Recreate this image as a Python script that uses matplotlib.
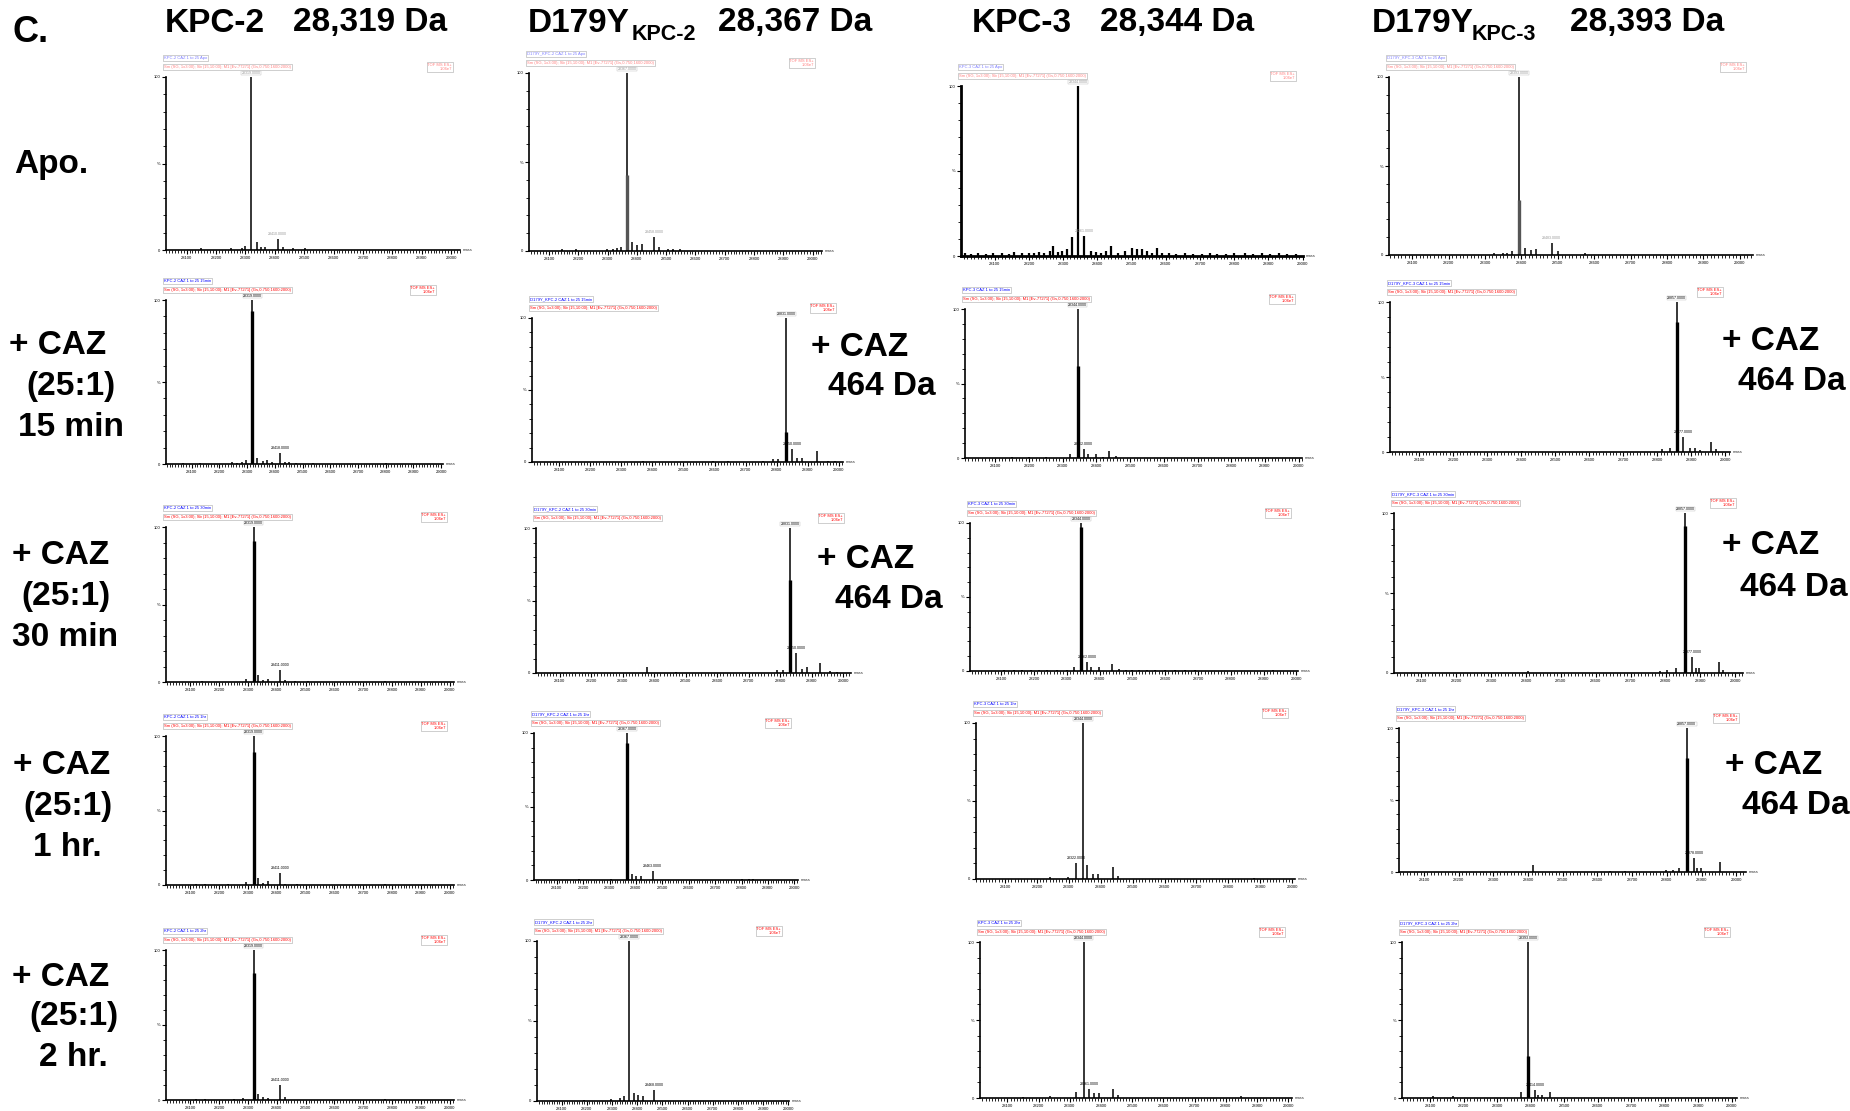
import numpy as np
import matplotlib
matplotlib.use("Agg")
import matplotlib.pyplot as plt
from matplotlib.ticker import MultipleLocator, FixedLocator

plt.rcParams['font.family'] = ['Liberation Sans', 'DejaVu Sans']

W, H = 1850, 1111

# ---- data: deconvoluted ESI-MS spectra (mass in Da, relative intensity %) ----
columns = ["KPC-2", "D179Y KPC-2", "KPC-3", "D179Y KPC-3"]
apo_masses = ["28,319 Da", "28,367 Da", "28,344 Da", "28,393 Da"]
times = ["Apo", "15min", "30min", "1hr", "2hr"]

# KPC-2
kpc2_apo_mz = [28149, 28250, 28287, 28299, 28319, 28338, 28352, 28367, 28410, 28427, 28461, 28503]
kpc2_apo_int = [1.0, 1.0, 1.2, 2.5, 100, 4.8, 2.0, 2.0, 6.2, 2.0, 1.0, 1.0]
kpc2_15_mz = [28070, 28131, 28245, 28263, 28281, 28296, 28319, 28337, 28356, 28371, 28388, 28418, 28437, 28452, 28478, 28538, 28803]
kpc2_15_int = [0.5, 0.7, 1.0, 0.8, 1.0, 2.5, 100, 3.5, 2.0, 2.5, 1.0, 6.5, 1.5, 1.0, 0.8, 0.6, 0.6]
kpc2_30_mz = [28140, 28293, 28319, 28334, 28352, 28369, 28411, 28428, 28463, 28508, 28777]
kpc2_30_int = [0.5, 2.0, 100, 4.7, 1.5, 2.0, 7.5, 1.0, 0.8, 0.8, 0.6]
kpc2_1h_mz = [28120, 28150, 28230, 28293, 28319, 28334, 28352, 28369, 28411, 28428, 28470, 28777]
kpc2_1h_int = [0.8, 1.0, 1.0, 2.0, 100, 5.0, 1.5, 2.5, 8.3, 1.0, 0.8, 1.0]
kpc2_2h_mz = [28120, 28150, 28250, 28283, 28319, 28334, 28352, 28369, 28411, 28428, 28777]
kpc2_2h_int = [0.8, 1.0, 1.0, 1.5, 100, 4.0, 2.0, 1.5, 10.0, 2.0, 1.0]

# D179Y KPC-2
d2_apo_mz = [28146, 28194, 28299, 28317, 28333, 28346, 28367, 28384, 28399, 28416, 28458, 28476, 28507, 28525, 28547]
d2_apo_int = [1.0, 1.0, 1.0, 1.2, 1.5, 2.5, 100, 5.0, 3.5, 4.0, 8.0, 2.5, 1.0, 1.0, 1.0]
d2_15_mz = [28370, 28595, 28643, 28755, 28788, 28803, 28831, 28850, 28864, 28882, 28929, 28965, 28986]
d2_15_int = [1.0, 0.8, 0.8, 1.0, 2.0, 2.0, 100, 9.0, 3.0, 3.0, 7.4, 1.0, 1.0]
d2_30_mz = [28376, 28470, 28790, 28809, 28831, 28850, 28870, 28884, 28927, 28959, 28982]
d2_30_int = [4.0, 1.0, 2.0, 2.0, 100, 13.7, 3.0, 4.0, 7.0, 1.5, 1.0]
d2_1h_mz = [28183, 28306, 28367, 28385, 28401, 28418, 28463, 28801, 28827, 28844]
d2_1h_int = [1.0, 1.0, 100, 4.0, 3.0, 3.0, 6.3, 1.0, 1.0, 1.0]
d2_2h_mz = [28190, 28296, 28331, 28348, 28367, 28386, 28402, 28421, 28468]
d2_2h_int = [0.8, 1.5, 2.0, 3.0, 100, 5.0, 4.0, 3.0, 6.9]

# KPC-3
kpc3_apo_mz = [28012, 28030, 28050, 28075, 28095, 28120, 28140, 28156, 28180, 28200, 28215, 28230,
               28245, 28260, 28271, 28285, 28296, 28310, 28327, 28344, 28361, 28380, 28395, 28410,
               28425, 28440, 28460, 28480, 28500, 28515, 28529, 28545, 28560, 28573, 28590, 28610,
               28630, 28655, 28680, 28705, 28730, 28750, 28775, 28800, 28830, 28855, 28880, 28905,
               28930, 28955, 28980]
kpc3_apo_int = [1.5, 1.0, 1.5, 1.0, 2.0, 1.5, 1.0, 2.5, 1.5, 2.0, 1.5, 2.5,
                2.0, 3.0, 6.0, 2.5, 3.0, 4.0, 11.0, 100, 12.0, 3.0, 2.5, 2.0,
                3.0, 6.0, 2.0, 3.0, 5.0, 4.0, 4.0, 3.0, 2.0, 5.0, 2.0, 1.5,
                1.0, 1.5, 1.0, 1.0, 1.5, 1.0, 1.0, 1.5, 1.5, 1.0, 1.5, 1.0,
                1.5, 1.0, 1.0]
kpc3_15_mz = [28150, 28200, 28250, 28322, 28344, 28362, 28375, 28398, 28420, 28438, 28458]
kpc3_15_int = [0.8, 1.0, 1.0, 3.0, 100, 6.0, 3.0, 3.0, 1.0, 5.0, 1.5]
kpc3_30_mz = [28110, 28140, 28165, 28190, 28215, 28240, 28270, 28300, 28322, 28344, 28362, 28375,
              28398, 28438, 28458, 28480, 28500, 28520, 28545, 28570, 28600, 28630, 28660, 28690, 28930]
kpc3_30_int = [0.7, 0.7, 0.7, 0.7, 0.7, 0.7, 0.7, 0.7, 3.0, 100, 6.0, 3.0,
               3.0, 5.0, 1.5, 0.7, 0.7, 0.7, 0.7, 0.7, 0.7, 0.7, 0.7, 0.7, 1.0]
kpc3_1h_mz = [28240, 28298, 28322, 28344, 28357, 28375, 28390, 28437, 28455, 28880]
kpc3_1h_int = [1.5, 1.5, 10.0, 100, 9.0, 3.0, 3.0, 8.0, 2.0, 0.8]
kpc3_2h_mz = [28150, 28237, 28320, 28344, 28361, 28377, 28393, 28439, 28455, 28850]
kpc3_2h_int = [0.5, 1.0, 4.0, 100, 6.0, 3.0, 3.5, 6.0, 2.0, 1.0]

# D179Y KPC-3
d3_apo_mz = [28324, 28348, 28359, 28373, 28393, 28409, 28425, 28440, 28483, 28501, 28575]
d3_apo_int = [1.0, 1.0, 1.0, 2.5, 100, 4.0, 3.0, 3.5, 7.0, 2.0, 1.0]
d3_15_mz = [28401, 28815, 28838, 28857, 28877, 28895, 28911, 28926, 28957, 28974]
d3_15_int = [1.0, 2.0, 2.5, 100, 10.0, 3.0, 3.0, 1.5, 7.0, 2.0]
d3_30_mz = [28405, 28783, 28805, 28831, 28857, 28877, 28887, 28897, 28954, 28964]
d3_30_int = [1.5, 1.0, 2.0, 3.0, 100, 10.0, 3.0, 3.0, 7.0, 2.0]
d3_1h_mz = [28413, 28635, 28678, 28797, 28818, 28835, 28857, 28878, 28888, 28898, 28954]
d3_1h_int = [5.0, 1.0, 1.0, 1.5, 1.5, 3.0, 100, 10.0, 3.0, 2.5, 7.0]
d3_2h_mz = [28108, 28168, 28370, 28393, 28414, 28422, 28434, 28457]
d3_2h_int = [1.0, 1.0, 4.0, 100, 5.0, 2.0, 2.0, 4.0]

spectra = [
    [(kpc2_apo_mz, kpc2_apo_int), (d2_apo_mz, d2_apo_int), (kpc3_apo_mz, kpc3_apo_int), (d3_apo_mz, d3_apo_int)],
    [(kpc2_15_mz, kpc2_15_int), (d2_15_mz, d2_15_int), (kpc3_15_mz, kpc3_15_int), (d3_15_mz, d3_15_int)],
    [(kpc2_30_mz, kpc2_30_int), (d2_30_mz, d2_30_int), (kpc3_30_mz, kpc3_30_int), (d3_30_mz, d3_30_int)],
    [(kpc2_1h_mz, kpc2_1h_int), (d2_1h_mz, d2_1h_int), (kpc3_1h_mz, kpc3_1h_int), (d3_1h_mz, d3_1h_int)],
    [(kpc2_2h_mz, kpc2_2h_int), (d2_2h_mz, d2_2h_int), (kpc3_2h_mz, kpc3_2h_int), (d3_2h_mz, d3_2h_int)],
]
# lower edge of the mass window of each panel (window is 1000 Da wide)
x_start = [
    [28030, 28032, 28001, 28036],
    [28007, 28013, 28010, 28014],
    [28015, 28025, 28005, 28022],
    [28015, 28014, 28009, 28028],
    [28015, 28002, 28012, 28016],
]
# height of the centroid bar drawn under the apex line
core_height = [
    [0, 42.5, 0, 31],
    [93, 21, 62, 87],
    [91, 64, 97, 92],
    [89, 93, 0, 79],
    [85, 0, 0, 27],
]

# panel boxes in pixels: left, top, right, bottom
boxes = [
    [(166, 77, 460, 250), (529, 73, 822, 251), (961, 86, 1303, 256), (1389, 77, 1753, 255)],
    [(166, 300, 443, 464), (532, 318, 843, 462), (965, 309, 1302, 458), (1390, 302, 1730, 452)],
    [(166, 527, 454, 682), (536, 528, 851, 673), (970, 523, 1298, 671), (1394, 513, 1743, 673)],
    [(166, 736, 454, 885), (534, 733, 798, 880), (976, 723, 1295, 879), (1399, 728, 1746, 872)],
    [(166, 950, 454, 1100), (537, 941, 789, 1101), (980, 942, 1292, 1098), (1402, 942, 1737, 1098)],
]

fig = plt.figure(figsize=(W / 100, H / 100), dpi=100)


def px(x, y):
    return x / W, 1 - y / H


for r in range(5):
    for c in range(4):
        mz, inten = spectra[r][c]
        l, t, rt, b = boxes[r][c]
        ax = fig.add_axes([l / W, 1 - b / H, (rt - l) / W, (b - t) / H])
        x0 = x_start[r][c]
        faint = (r == 0)
        lwp = 1.6 if (r == 0 and c == 2) else 1.1
        ax.vlines(mz, 0, inten, color='black', lw=lwp, clip_on=False)
        imax = int(np.argmax(inten))
        if core_height[r][c] > 0:
            ax.vlines([mz[imax]], 0, [core_height[r][c]], color='black' if not faint else '#555555', lw=2.4)
        ax.set_xlim(x0, x0 + 1000)
        ax.set_ylim(0, 100)
        for s in ['top', 'right']:
            ax.spines[s].set_visible(False)
        bw = 2.0 if (r == 0 and c == 2) else 1.2
        ax.spines['left'].set_linewidth(bw)
        ax.spines['bottom'].set_linewidth(bw)
        ax.xaxis.set_major_locator(MultipleLocator(100))
        ax.xaxis.set_minor_locator(MultipleLocator(10))
        ax.yaxis.set_major_locator(FixedLocator([0, 50, 100]))
        ax.yaxis.set_minor_locator(MultipleLocator(10))
        ax.set_yticklabels(['0', '%', '100'])
        ax.tick_params(which='major', direction='out', length=3, width=0.8, labelsize=3, pad=1)
        ax.tick_params(which='minor', direction='out', length=2, width=0.6)
        ax.patch.set_alpha(0)

        # peak labels
        tcol = '#999999' if faint else 'black'
        ax.annotate(f"{mz[imax]:.4f}", xy=(mz[imax], 100), xytext=(0, 2), textcoords='offset pixels',
                    ha='center', va='bottom', fontsize=2.6, color=tcol,
                    bbox=dict(boxstyle='square,pad=0.1', fc='white', ec='#bbbbbb', lw=0.3))
        rest = [i for i in range(len(inten)) if i != imax]
        j = max(rest, key=lambda i: inten[i])
        ax.annotate(f"{mz[j]:.4f}", xy=(mz[j], inten[j]), xytext=(0, 3), textcoords='offset pixels',
                    ha='center', va='bottom', fontsize=2.6, color=tcol)

        # instrument header boxes
        name = columns[c].replace(' ', '_')
        bcol = '#8080ff' if faint else 'blue'
        rcol = '#ff8080' if faint else 'red'
        ax.annotate(f"{name} CAZ 1 to 25 {times[r]}", xy=(0, 1), xycoords='axes fraction',
                    xytext=(-2, 17), textcoords='offset pixels', fontsize=3, color=bcol, va='bottom',
                    bbox=dict(boxstyle='square,pad=0.15', fc='white', ec='#aaaaaa', lw=0.4))
        ax.annotate("Sm (SG, 1x3.00); Sb (15,10.00); M1 [Ev-77271] (Gs,0.750,1600:2000)",
                    xy=(0, 1), xycoords='axes fraction', xytext=(-2, 8), textcoords='offset pixels',
                    fontsize=3, color=rcol, va='bottom',
                    bbox=dict(boxstyle='square,pad=0.15', fc='white', ec='#aaaaaa', lw=0.4))
        ax.annotate("TOF MS ES+\n1.06e7", xy=(1, 1), xycoords='axes fraction',
                    xytext=(-8, 6), textcoords='offset pixels', fontsize=3, color=rcol,
                    ha='right', va='bottom', multialignment='right', linespacing=1.0,
                    bbox=dict(boxstyle='square,pad=0.15', fc='white', ec='#aaaaaa', lw=0.4))
        ax.annotate("mass", xy=(1, 0), xycoords='axes fraction', xytext=(3, 0),
                    textcoords='offset pixels', fontsize=3, va='center', color='#333333')

big = dict(fontsize=24, fontweight='bold', ha='left', va='center')
head = dict(fontsize=24, fontweight='bold', ha='left', va='center')

fig.text(*px(12, 33), "C.", fontsize=26, fontweight='bold', ha='left', va='center')

# column headers
fig.text(*px(165, 23), "KPC-2", **head)
fig.text(*px(293, 23), apo_masses[0], **head)
fig.text(*px(528, 23), "D179Y", **head)
fig.text(*px(632, 34), "KPC-2", fontsize=15.5, fontweight='bold', ha='left', va='center')
fig.text(*px(718, 23), apo_masses[1], **head)
fig.text(*px(972, 23), "KPC-3", **head)
fig.text(*px(1100, 23), apo_masses[2], **head)
fig.text(*px(1372, 23), "D179Y", **head)
fig.text(*px(1472, 34), "KPC-3", fontsize=15.5, fontweight='bold', ha='left', va='center')
fig.text(*px(1570, 23), apo_masses[3], **head)

# row labels
row_labels = [
    [("Apo.", 14, 165)],
    [("+ CAZ", 9, 346), ("(25:1)", 26, 387), ("15 min", 18, 427)],
    [("+ CAZ", 12, 556), ("(25:1)", 21, 597), ("30 min", 12, 638)],
    [("+ CAZ", 13, 765), ("(25:1)", 23, 807), ("1 hr.", 33, 847)],
    [("+ CAZ", 12, 978), ("(25:1)", 29, 1017), ("2 hr.", 39, 1057)],
]
for lab in row_labels:
    for s, x, y in lab:
        fig.text(*px(x, y), s, **big)

# adduct annotations
adducts = [(811, 347, 828, 387), (817, 560, 835, 600), (1722, 342, 1738, 381),
           (1722, 546, 1740, 587), (1725, 765, 1742, 805)]
for x1, y1, x2, y2 in adducts:
    fig.text(*px(x1, y1), "+ CAZ", **big)
    fig.text(*px(x2, y2), "464 Da", **big)

plt.savefig("out.png", dpi=100)
